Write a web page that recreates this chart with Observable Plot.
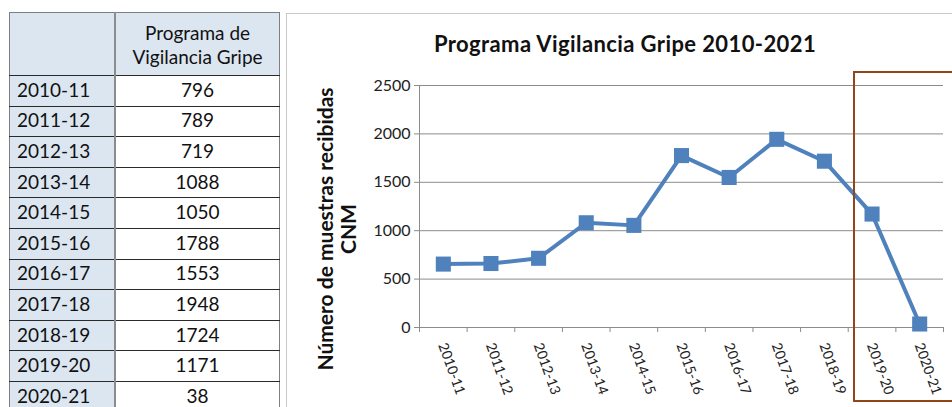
<!DOCTYPE html>
<html>
<head>
<meta charset="utf-8">
<script src="https://cdn.jsdelivr.net/npm/d3@7"></script>
<script src="https://cdn.jsdelivr.net/npm/@observablehq/plot@0.6"></script>
<style>
  html, body { margin: 0; padding: 0; background: #fff; }
  body { width: 952px; height: 407px; overflow: hidden; position: relative; font-family: Lato, "Open Sans", sans-serif; }
  #tbl { position: absolute; left: 9px; top: 12px; border-collapse: collapse; table-layout: fixed; font-size: 19px; color: #111; }
  #tbl td { padding: 0 0 3px 0; border-top: 1px solid #2a2a2a; border-bottom: 1px solid #2a2a2a; height: 26.6px; line-height: 1; vertical-align: middle; }
  #tbl td.c1 { width: 97px; background: #dce6f1; border-left: 1px solid #7f7f7f; border-right: 2px solid #8c8c8c; padding-left: 7px; text-align: left; }
  #tbl td.c2 { width: 163px; text-align: center; border-right: 1px solid #7f7f7f; }
  #tbl tr.hdr td { height: 62px; padding: 0; background: #dce6f1; border-top: 1px solid #7f7f7f; }
  #tbl tr.hdr td.c2 { line-height: 24px; padding-top: 2px; height: 60px; }
  #frame { position: absolute; left: 286px; top: 13px; width: 700px; height: 420px; border-left: 1px solid #c8c8c8; border-top: 1px solid #c8c8c8; }
  #plot { position: absolute; left: 286px; top: 13px; }
  #title { position: absolute; left: 375px; width: 500px; top: 30px; text-align: center; font-weight: bold; font-size: 22px; letter-spacing: 0.4px; color: #111; }
  .ylab { position: absolute; font-weight: bold; font-size: 21px; color: #111; white-space: nowrap; transform: rotate(-90deg); transform-origin: center center; text-align: center; width: 340px; height: 24px; line-height: 24px; }
  #hl { position: absolute; left: 853px; top: 71px; width: 120px; height: 327px; border: 2px solid #8f461a; }
</style>
</head>
<body>
<div id="frame"></div>
<table id="tbl"></table>
<div id="title">Programa Vigilancia Gripe 2010-2021</div>
<div class="ylab" id="yl1">Número de muestras recibidas</div>
<div class="ylab" id="yl2">CNM</div>
<div id="plot"></div>
<div id="hl"></div>
<script>
// ---- data ----
const seasons = ["2010-11","2011-12","2012-13","2013-14","2014-15","2015-16","2016-17","2017-18","2018-19","2019-20","2020-21"];
const tableValues = [796, 789, 719, 1088, 1050, 1788, 1553, 1948, 1724, 1171, 38];
const chartValues = [655, 661, 715, 1082, 1055, 1776, 1550, 1944, 1718, 1172, 36];
const yTicks = [0, 500, 1000, 1500, 2000, 2500];
const headerLines = ["Programa de", "Vigilancia Gripe"];
const chartTitle = "Programa Vigilancia Gripe 2010-2021";
const yLabelLines = ["Número de muestras recibidas", "CNM"];

// ---- table ----
const tbl = document.getElementById("tbl");
let html = `<tr class="hdr"><td class="c1"></td><td class="c2">${headerLines.join("<br>")}</td></tr>`;
seasons.forEach((s, i) => {
  html += `<tr><td class="c1">${s}</td><td class="c2">${tableValues[i]}</td></tr>`;
});
tbl.innerHTML = html;

// ---- y label placement ----
const yl1 = document.getElementById("yl1");
const yl2 = document.getElementById("yl2");
yl1.textContent = yLabelLines[0];
yl2.textContent = yLabelLines[1];
yl1.style.left = (325 - 170) + "px"; yl1.style.top = (229 - 12) + "px";
yl2.style.left = (348 - 170) + "px"; yl2.style.top = (229 - 12) + "px";
document.getElementById("title").textContent = chartTitle;

// ---- chart ----
const data = seasons.map((s, i) => ({season: s, idx: i + 0.5, value: chartValues[i]}));
const grey = "#8c8c8c";
const chart = Plot.plot({
  width: 666,
  height: 394,
  marginLeft: 133,
  marginRight: 9,
  marginTop: 72,
  marginBottom: 80,
  style: {fontFamily: "Lato, 'Open Sans', sans-serif", color: "#222", background: "transparent", overflow: "visible"},
  x: {type: "linear", domain: [0, seasons.length], axis: null},
  y: {domain: [0, 2500], axis: null},
  marks: [
    Plot.gridY(yTicks, {stroke: grey, strokeOpacity: 1, strokeWidth: 1}),
    Plot.axisY(yTicks, {tickSize: 5, tickPadding: 4, stroke: grey, fontSize: 16, fill: "#222", label: null, tickFormat: d => String(d)}),
    Plot.ruleX([0], {stroke: grey, strokeWidth: 1}),
    Plot.ruleY([0], {stroke: grey, strokeWidth: 1}),
    Plot.axisX(d3.range(0, seasons.length + 1), {tickSize: 5, tickFormat: () => "", stroke: grey, label: null}),
    Plot.line(data, {x: "idx", y: "value", stroke: "#4f81bd", strokeWidth: 4}),
    Plot.dot(data, {x: "idx", y: "value", symbol: "square", r: 8.5, fill: "#4f81bd", stroke: "none"}),
    Plot.text(data, {x: "idx", y: () => 0, text: "season", rotate: 70, textAnchor: "start", lineAnchor: "middle", dx: -1, dy: 16, fontSize: 14, fill: "#222"})
  ]
});
document.getElementById("plot").appendChild(chart);
</script>
</body>
</html>
